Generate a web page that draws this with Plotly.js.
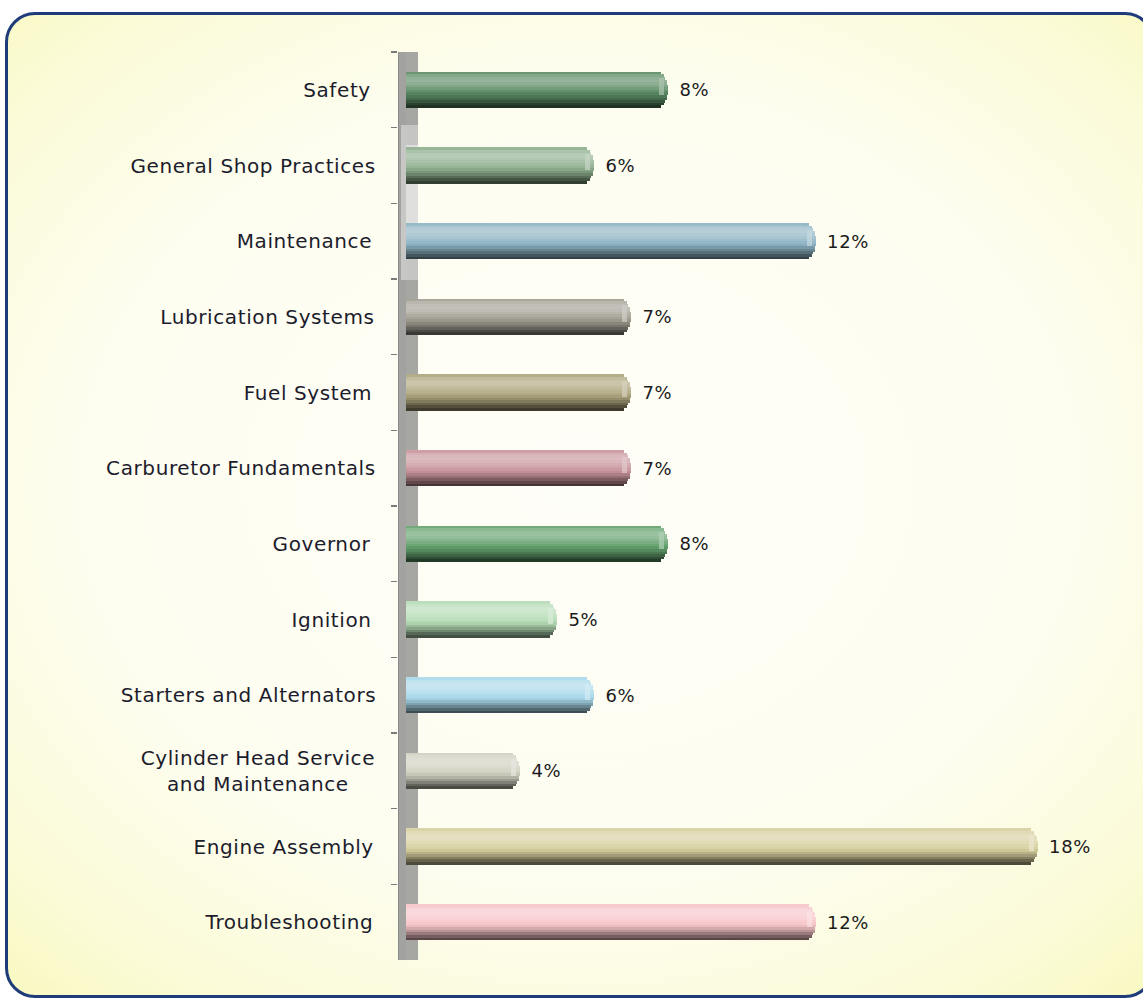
<!DOCTYPE html>
<html><head><meta charset="utf-8">
<script src="https://cdn.plot.ly/plotly-3.0.1.min.js"></script>
<style>
html,body{margin:0;padding:0;background:#ffffff;overflow:hidden;width:1143px;height:998px;}
#frame{position:absolute;left:5px;top:12px;width:1150px;height:986px;box-sizing:border-box;border:3px solid #1f3c7a;border-radius:30px;
background:radial-gradient(ellipse 72% 68% at 50% 48%, #fefef8 0%, #fdfdf0 60%, #fbfbd8 88%, #f9f9c6 100%);}
#chart{position:absolute;left:0;top:0;width:1143px;height:998px;}
#chart .annotation-text{letter-spacing:0.6px;}
</style></head><body>
<div id="frame"></div><div id="chart"></div>
<script>
const categories = ["Safety","General Shop Practices","Maintenance","Lubrication Systems","Fuel System","Carburetor Fundamentals","Governor","Ignition","Starters and Alternators","Cylinder Head Service<br>and Maintenance","Engine Assembly","Troubleshooting"];
const values = [8,6,12,7,7,7,8,5,6,4,18,12];
const valueLabels = ["8%","6%","12%","7%","7%","7%","8%","5%","6%","4%","18%","12%"];
const barColors = ["#5a8a62","#8eae8e","#8db3c3","#a09c90","#aca47c","#c8949a","#62a06c","#b4dab4","#a8d8ea","#cfcfc0","#d6cf9e","#f6c4c8"];

const W = 1143, H = 998;
const mL = 398, mR = 33, mT = 52, mB = 38;
const plotW = W - mL - mR;
const plotH = H - mT - mB;
const zeroPx = 372, pxPerUnit = 37;
const xRange = [(mL - zeroPx) / pxPerUnit, (W - mR - zeroPx) / pxPerUnit];

function hex2rgb(h){h=h.replace('#','');return [0,2,4].map(i=>parseInt(h.substr(i,2),16));}
function shade(h,p){const c=hex2rgb(h);const t=p>0?255:0;const a=Math.abs(p);
  return 'rgb('+c.map(v=>Math.round(v+(t-v)*a)).join(',')+')';}

const profile = [0.1,0.26,0.34,0.36,0.32,0.24,0.15,0.06,-0.04,-0.14,-0.25,-0.38,-0.52,-0.64];
const barH = 0.476;
const N = profile.length;
const sw = barH / N;
const capR = 11 / pxPerUnit;
const traces = [];
profile.forEach((p,i)=>{
  const d = ((i+0.5)/N)*2-1;
  const red = capR*(1-Math.sqrt(1-d*d));
  traces.push({
    type:'bar', orientation:'h', y:categories, x:values.map(v=>v-red),
    width:categories.map(()=>sw*1.02), offset:-barH/2+i*sw,
    marker:{color:barColors.map(c=>shade(c,p)), line:{width:0}},
    hoverinfo:'skip', showlegend:false
  });
});
// soft highlight near the rounded end
traces.push({
  type:'bar', orientation:'h', y:categories, x:values.map(()=>capR*0.4), base:values.map(v=>v-capR*0.8),
  width:categories.map(()=>barH*0.45), offset:-barH*0.32,
  marker:{color:barColors.map(c=>shade(c,0.5)), line:{width:0}}, opacity:0.7,
  hoverinfo:'skip', showlegend:false
});

const annotations = [];
categories.forEach((c,i)=>{
  annotations.push({xref:'paper', yref:'y', x:(371-mL)/plotW, y:c, xanchor:'right', yanchor:'middle',
    text:c, showarrow:false, align:'center',
    font:{family:'DejaVu Sans, sans-serif', size:20, color:'#1c1c2c'}});
  annotations.push({xref:'x', yref:'y', x:values[i], y:c, xanchor:'left', yanchor:'middle', xshift:10,
    text:valueLabels[i], showarrow:false,
    font:{family:'DejaVu Sans, sans-serif', size:18, color:'#1a1a1a'}});
});

const shapes = [
  {type:'rect', xref:'paper', yref:'paper', x0:0, x1:20/plotW, y0:0, y1:1, layer:'below', fillcolor:'#a6a6a3', line:{width:0}},
  {type:'rect', xref:'paper', yref:'paper', x0:3/plotW, x1:20/plotW, y0:(960-280)/plotH, y1:(960-125)/plotH, layer:'below', fillcolor:'rgba(255,255,255,0.35)', line:{width:0}},
  {type:'rect', xref:'paper', yref:'paper', x0:6/plotW, x1:20/plotW, y0:(960-255)/plotH, y1:(960-145)/plotH, layer:'below', fillcolor:'rgba(255,255,255,0.45)', line:{width:0}},
  {type:'rect', xref:'paper', yref:'paper', x0:0, x1:8/plotW, y0:0, y1:1, layer:'above', fillcolor:'#a2a2a0', line:{width:0}},
  {type:'rect', xref:'paper', yref:'paper', x0:3/plotW, x1:8/plotW, y0:(960-280)/plotH, y1:(960-125)/plotH, layer:'above', fillcolor:'rgba(255,255,255,0.4)', line:{width:0}},
  {type:'line', xref:'paper', yref:'paper', x0:0.5/plotW, x1:0.5/plotW, y0:0, y1:1, layer:'above', line:{color:'#8a8a88', width:1}}
];

const layout = {
  width:W, height:H,
  margin:{l:mL, r:mR, t:mT, b:mB, pad:0},
  paper_bgcolor:'rgba(0,0,0,0)', plot_bgcolor:'rgba(0,0,0,0)',
  barmode:'overlay', bargap:0,
  xaxis:{range:xRange, showgrid:false, zeroline:false, showticklabels:false, showline:false, ticks:'', fixedrange:true},
  yaxis:{type:'category', categoryorder:'array', categoryarray:categories, range:[11.5,-0.5],
    showticklabels:false, ticks:'outside', tickson:'boundaries', ticklen:6, tickwidth:1.5, tickcolor:'#7a7a7a',
    showgrid:false, zeroline:false, showline:false, fixedrange:true},
  shapes:shapes, annotations:annotations, showlegend:false
};
Plotly.newPlot('chart', traces, layout, {displayModeBar:false, staticPlot:true});
</script>
</body></html>
